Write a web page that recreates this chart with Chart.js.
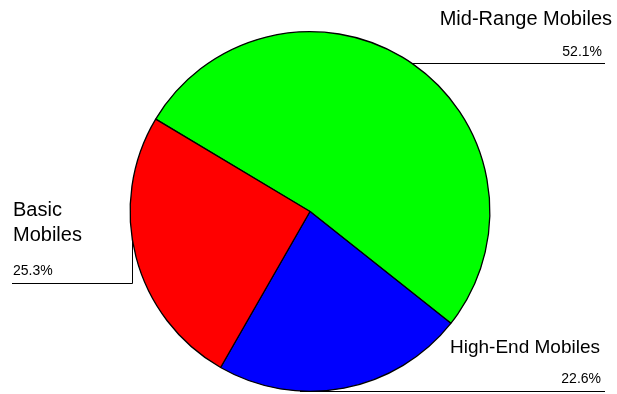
<!DOCTYPE html>
<html>
<head>
<meta charset="utf-8">
<script src="https://cdn.jsdelivr.net/npm/chart.js@4"></script>
<style>
  html, body { margin: 0; padding: 0; background: #fff; }
  #wrap { width: 617px; height: 394px; position: relative; }
</style>
</head>
<body>
<div id="wrap"><canvas id="c" width="617" height="394"></canvas></div>
<script>
const categories = ["Mid-Range Mobiles", "High-End Mobiles", "Basic Mobiles"];
const shares = [52.1, 22.6, 25.3];
const shareLabels = ["52.1%", "22.6%", "25.3%"];
const sliceColors = ["#00ff00", "#0000ff", "#ff0000"];

const FONT = '"Liberation Sans", Arial, sans-serif';

const labelPlugin = {
  id: 'labels',
  beforeDatasetsDraw(chart) {
    const ctx = chart.ctx;
    ctx.save();
    ctx.strokeStyle = '#000';
    ctx.lineWidth = 1;
    ctx.beginPath();
    // Mid-range leader
    ctx.moveTo(395, 63.5); ctx.lineTo(605, 63.5);
    // Basic leader
    ctx.moveTo(12, 283.5); ctx.lineTo(132.5, 283.5); ctx.lineTo(132.5, 235);
    // High-end leader
    ctx.moveTo(300, 391.5); ctx.lineTo(605, 391.5);
    ctx.stroke();
    ctx.restore();
  },
  afterDraw(chart) {
    const ctx = chart.ctx;
    ctx.save();
    ctx.fillStyle = '#000';
    ctx.textBaseline = 'alphabetic';
    ctx.font = '20px ' + FONT;
    ctx.textAlign = 'right';
    ctx.fillText(categories[0], 612, 25);
    ctx.textAlign = 'left';
    const basic = categories[2].split(' ');
    ctx.fillText(basic[0], 13, 216);
    ctx.fillText(basic[1], 13, 241);
    ctx.font = '19px ' + FONT;
    ctx.textAlign = 'right';
    ctx.fillText(categories[1], 600, 353);
    ctx.font = '14px ' + FONT;
    ctx.fillText(shareLabels[0], 602, 56);
    ctx.fillText(shareLabels[1], 601, 383);
    ctx.textAlign = 'left';
    ctx.fillText(shareLabels[2], 13, 275);
    ctx.restore();
  }
};

new Chart(document.getElementById('c'), {
  type: 'pie',
  data: {
    labels: categories,
    datasets: [{
      data: shares,
      backgroundColor: sliceColors,
      borderColor: '#000',
      borderWidth: 1.3
    }]
  },
  options: {
    responsive: false,
    animation: false,
    rotation: -59.1,
    layout: { padding: { left: 3, right: 0, top: 31, bottom: 2 } },
    plugins: {
      legend: { display: false },
      tooltip: { enabled: false },
      title: { display: false }
    }
  },
  plugins: [labelPlugin]
});
</script>
</body>
</html>
